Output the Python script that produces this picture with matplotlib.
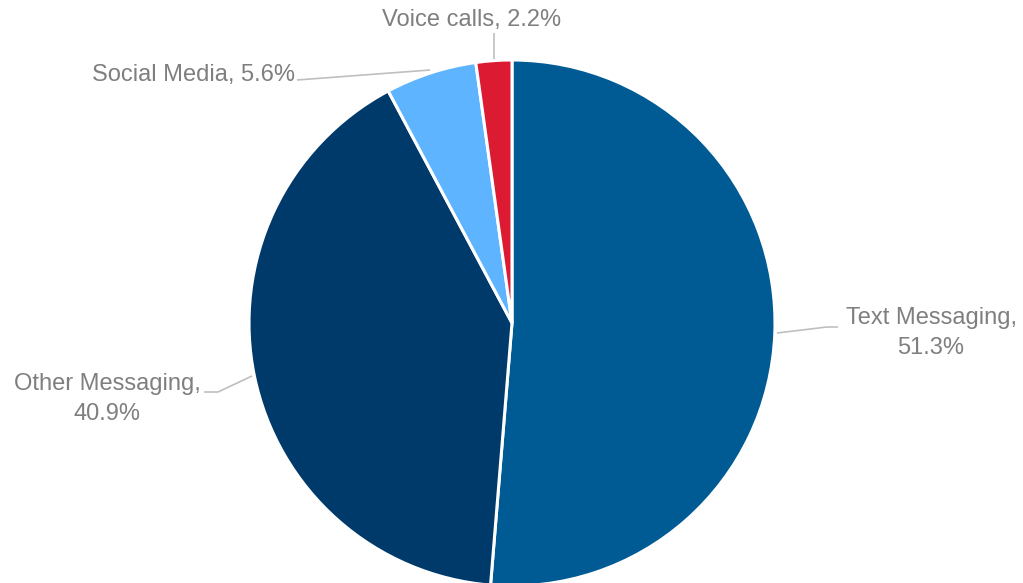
import matplotlib
matplotlib.use("Agg")
import matplotlib.pyplot as plt

categories = ["Text Messaging", "Other Messaging", "Social Media", "Voice calls"]
values = [51.3, 40.9, 5.6, 2.2]
colors = ["#005A94", "#003A6B", "#5EB4FF", "#DC1A32"]

W, H = 1023, 583
fig = plt.figure(figsize=(W / 100, H / 100), dpi=100)
ax = fig.add_axes([0, 0, 1, 1])

cx, cy, r = 512, H - 323, 263
ax.pie(values, colors=colors, startangle=90, counterclock=False,
       center=(cx, cy), radius=r, frame=True,
       wedgeprops=dict(edgecolor="white", linewidth=2.2))
ax.set_xlim(0, W)
ax.set_ylim(0, H)
ax.set_aspect("equal")
ax.axis("off")

labels = [f"{c},\n{v}%" for c, v in zip(categories, values)]
labels[2] = f"{categories[2]}, {values[2]}%"
labels[3] = f"{categories[3]}, {values[3]}%"

# label text centers (pixel coords, y from top) and leader polylines
text_pos = [(931, 333), (107, 399), (193, 75), (472, 20)]
leaders = [
    [(777, 333), (827, 327), (838, 327)],
    [(204, 392), (218, 392), (252, 376)],
    [(297, 80), (430, 70)],
    [(494, 33), (494, 59)],
]

tcolor = "#7F7F7F"
lcolor = "#BFBFBF"
for lab, (tx, ty), pts in zip(labels, text_pos, leaders):
    ax.text(tx, H - ty, lab, ha="center", va="center", color=tcolor,
            fontsize=17, family="Liberation Sans", linespacing=1.5)
    xs = [p[0] for p in pts]
    ys = [H - p[1] for p in pts]
    ax.plot(xs, ys, color=lcolor, lw=1.2, solid_capstyle="butt")

fig.savefig("out.png", dpi=100)
